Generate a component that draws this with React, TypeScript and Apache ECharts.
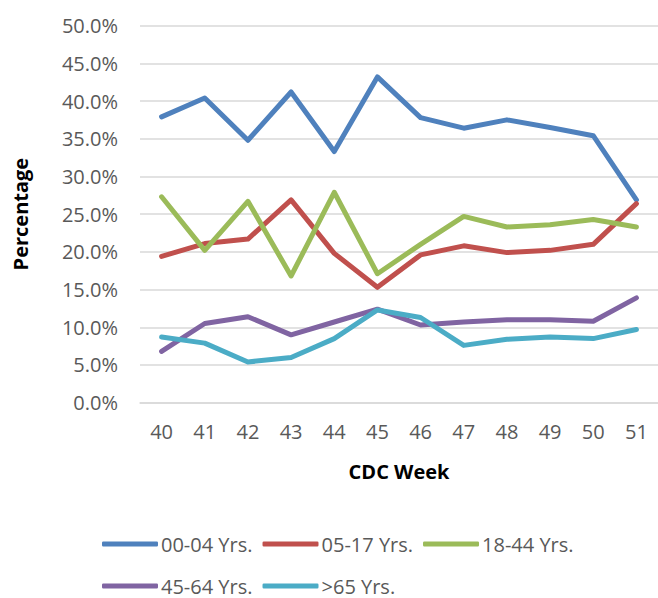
import React, { useEffect, useRef } from "react";
import * as echarts from "echarts";

const weeks = ["40", "41", "42", "43", "44", "45", "46", "47", "48", "49", "50", "51"];
const age0004 = [37.9, 40.4, 34.8, 41.2, 33.3, 43.2, 37.8, 36.4, 37.5, 36.5, 35.4, 26.9];
const age0517 = [19.4, 21.1, 21.7, 26.9, 19.8, 15.3, 19.6, 20.8, 19.9, 20.2, 21.0, 26.4];
const age1844 = [27.3, 20.2, 26.7, 16.8, 27.9, 17.1, 21.0, 24.7, 23.3, 23.6, 24.3, 23.3];
const age4564 = [6.8, 10.5, 11.4, 9.0, 10.7, 12.4, 10.3, 10.7, 11.0, 11.0, 10.8, 13.9];
const age65 = [8.7, 7.9, 5.4, 6.0, 8.5, 12.3, 11.3, 7.6, 8.4, 8.7, 8.5, 9.7];

const seriesNames = ["00-04 Yrs.", "05-17 Yrs.", "18-44 Yrs.", "45-64 Yrs.", ">65 Yrs."];
const seriesColors = ["#4F81BD", "#C0504D", "#9BBB59", "#8064A2", "#4BACC6"];
const seriesData = [age0004, age0517, age1844, age4564, age65];

const FONT = "'Open Sans', 'Noto Sans', sans-serif";
const TEXT = "#595959";

export default function App() {
  const ref = useRef<HTMLDivElement>(null);
  useEffect(() => {
    document.body.style.margin = "0";
    if (!ref.current) return;
    const chart = echarts.init(ref.current, undefined, { renderer: "svg" });
    const legendCommon = {
      orient: "horizontal" as const,
      icon: "roundRect",
      itemWidth: 56,
      itemHeight: 5,
      itemGap: 10,
      padding: 0,
      textStyle: { color: TEXT, fontSize: 20, lineHeight: 22, fontFamily: FONT, padding: [0, 0, 0, -2] },
    };
    chart.setOption({
      animation: false,
      backgroundColor: "#ffffff",
      textStyle: { fontFamily: FONT },
      grid: { left: 140, top: 25.6, width: 524.4, height: 377.1, containLabel: false },
      legend: [
        { ...legendCommon, left: 102, top: 533, data: seriesNames.slice(0, 3) },
        { ...legendCommon, left: 102, top: 575, data: seriesNames.slice(3) },
      ],
      xAxis: {
        type: "category",
        data: weeks,
        boundaryGap: true,
        name: "CDC Week",
        nameLocation: "middle",
        nameGap: 59,
        nameTextStyle: { color: "#000000", fontSize: 20, fontWeight: "bold", fontFamily: FONT },
        axisLine: { show: true, lineStyle: { color: "#D9D9D9", width: 1.5 } },
        axisTick: { show: false },
        axisLabel: { color: TEXT, fontSize: 20, fontFamily: FONT, margin: 19 },
      },
      yAxis: {
        type: "value",
        min: 0,
        max: 50,
        interval: 5,
        name: "Percentage",
        nameLocation: "middle",
        nameGap: 110,
        nameTextStyle: { color: "#000000", fontSize: 20, fontWeight: "bold", fontFamily: FONT },
        axisLine: { show: false },
        axisTick: { show: false },
        splitLine: { lineStyle: { color: "#D9D9D9", width: 1.5 } },
        axisLabel: {
          color: TEXT,
          fontSize: 20,
          fontFamily: FONT,
          margin: 22,
          formatter: (v: number) => v.toFixed(1) + "%",
        },
      },
      series: seriesNames.map((name, i) => ({
        name,
        type: "line",
        data: seriesData[i],
        symbol: "none",
        color: seriesColors[i],
        lineStyle: { color: seriesColors[i], width: 5, cap: "round", join: "round" },
        itemStyle: { color: seriesColors[i] },
      })),
    });
    return () => chart.dispose();
  }, []);
  return <div ref={ref} style={{ width: 658, height: 598 }} />;
}
